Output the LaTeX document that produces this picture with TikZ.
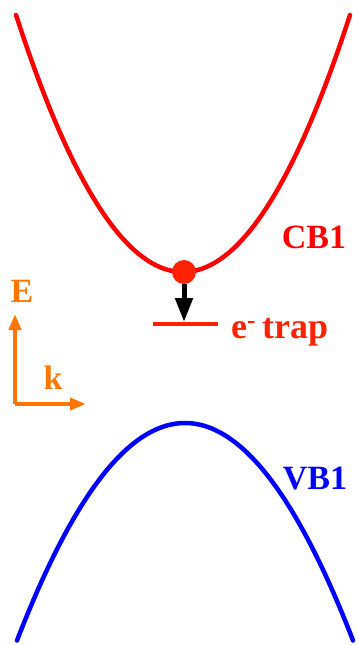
\documentclass[tikz,border=0pt]{standalone}
\usepackage{fontspec}
\setmainfont{Liberation Serif}
\usetikzlibrary{arrows.meta}
\definecolor{cbred}{HTML}{FF0000}
\definecolor{dotred}{HTML}{FF2200}
\definecolor{axorange}{HTML}{FF7700}
\definecolor{vbblue}{HTML}{0000FF}
\tikzset{
  lbl/.style={font=\bfseries\fontsize{34}{40}\selectfont, inner sep=0pt},
  band/.style={line width=4.5pt, line cap=round},
  axis/.style={axorange, line width=4pt, -{Triangle[length=16pt,width=12pt]}},
}
\begin{document}
\begin{tikzpicture}[x=1pt,y=-1pt]
\useasboundingbox (0,0) rectangle (358,645);
% conduction band
\draw[band, cbred, domain=16:350, samples=120] plot (\x, {272 - 0.00922*(\x-183)*(\x-183)});
% valence band
\draw[band, vbblue, domain=17:353, samples=120] plot (\x, {423 + 0.00770*(\x-185)*(\x-185)});
% electron
\node[circle, fill=dotred, minimum size=24pt, inner sep=0pt] (dot) at (184,272) {};
% trap level
\coordinate (trapL) at (153,324);
\coordinate (trapR) at (218,324);
\coordinate (trapC) at (184,322);
\draw[dotred, line width=4pt] (trapL) -- (trapR);
\draw[black, line width=5pt, -{Triangle[length=24pt,width=17pt]}] (dot.south) -- (trapC);
% labels
\node[lbl, text=cbred] (cb) at (314,237) {CB1};
\node[lbl, text=vbblue] (vb) at (315,479) {VB1};
\node[lbl, text=dotred, anchor=base west, font=\bfseries\fontsize{36}{42}\selectfont] (trap) at (231,338) {e\textsuperscript{-}\,trap};
% axes
\coordinate (o) at (15,404);
\coordinate (etip) at (15,314);
\coordinate (ktip) at (86,404);
\draw[axis] (o) -- (etip);
\draw[axis] (o) -- (ktip);
\node[lbl, text=axorange] (E) at (22,291) {E};
\node[lbl, text=axorange] (k) at (53,378) {k};
\end{tikzpicture}
\end{document}
